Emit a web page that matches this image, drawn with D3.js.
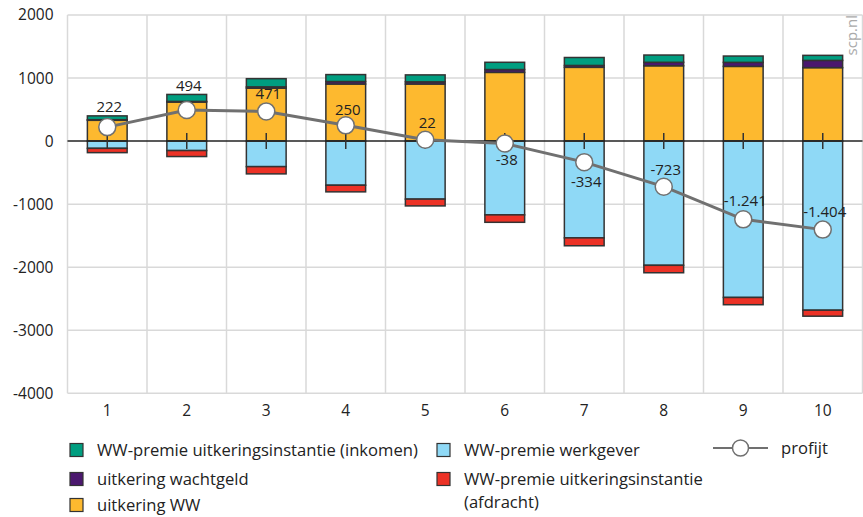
<!DOCTYPE html>
<html>
<head>
<meta charset="utf-8">
<script src="https://cdn.jsdelivr.net/npm/d3@7"></script>
<style>
  body { margin: 0; background: #fff; }
  svg { display: block; font-family: "Open Sans", sans-serif; }
</style>
</head>
<body>
<div id="chart"></div>
<script>
const categories = ["1", "2", "3", "4", "5", "6", "7", "8", "9", "10"];
const premieInkomen = [60, 110, 130, 110, 110, 115, 126, 115, 100, 80];
const wachtgeld = [10, 10, 20, 40, 35, 45, 30, 55, 64, 115];
const uitkeringWW = [330, 620, 840, 905, 905, 1090, 1170, 1195, 1185, 1165];
const premieWerkgever = [-115, -150, -405, -700, -920, -1170, -1535, -1970, -2480, -2682];
const premieAfdracht = [-68, -95, -115, -105, -108, -118, -125, -118, -115, -95];
const profijt = [222, 494, 471, 250, 22, -38, -334, -723, -1241, -1404];
const yTicks = [2000, 1000, 0, -1000, -2000, -3000, -4000];

const series = [
  { key: "ww", label: "uitkering WW", values: uitkeringWW, color: "#fdb92f" },
  { key: "wachtgeld", label: "uitkering wachtgeld", values: wachtgeld, color: "#4b186e" },
  { key: "inkomen", label: "WW-premie uitkeringsinstantie (inkomen)", values: premieInkomen, color: "#009e80" },
  { key: "werkgever", label: "WW-premie werkgever", values: premieWerkgever, color: "#8fd9f6" },
  { key: "afdracht", label: "WW-premie uitkeringsinstantie (afdracht)", values: premieAfdracht, color: "#ec3226" }
];
const colorOf = Object.fromEntries(series.map(s => [s.key, s.color]));

const width = 863, height = 517;
const plotLeft = 67.5, plotRight = 862.5, plotTop = 15, plotBottom = 393.3;

const nl = d3.formatLocale({ decimal: ",", thousands: ".", grouping: [3], currency: ["€", ""], minus: "-" });
const fmtLabel = nl.format(",d");
const fmtAxis = nl.format("d");

const svg = d3.select("#chart").append("svg")
  .attr("width", width).attr("height", height);

const xCell = d3.scaleBand().domain(categories).range([plotLeft, plotRight]);
const x = d3.scaleBand().domain(categories).range([plotLeft, plotRight]).paddingInner(0.5).paddingOuter(0.25);
const y = d3.scaleLinear().domain([-4000, 2000]).range([plotBottom, plotTop]);

// grid
const grid = svg.append("g").attr("stroke", "#d9d9d9").attr("stroke-width", 1.5);
grid.selectAll(".h").data(yTicks.filter(d => d !== 0)).join("line")
  .attr("x1", plotLeft).attr("x2", plotRight)
  .attr("y1", d => y(d)).attr("y2", d => y(d));
grid.selectAll(".v").data(categories.map(c => xCell(c)).concat([plotRight])).join("line")
  .attr("x1", d => d).attr("x2", d => d)
  .attr("y1", plotTop).attr("y2", plotBottom);

// axes
svg.append("g")
  .attr("transform", `translate(${plotLeft},0)`)
  .call(d3.axisLeft(y).tickValues(yTicks).tickSize(0).tickPadding(14).tickFormat(fmtAxis))
  .call(g => g.select(".domain").remove())
  .call(g => g.selectAll("text").attr("font-size", 15.5).attr("fill", "#222").attr("font-family", "Open Sans"));

svg.append("g")
  .attr("transform", `translate(0,${plotBottom})`)
  .call(d3.axisBottom(xCell).tickSize(0).tickPadding(12))
  .call(g => g.select(".domain").remove())
  .call(g => g.selectAll("text").attr("font-size", 15.5).attr("fill", "#222").attr("font-family", "Open Sans"));

// stacked bars
const rows = categories.map((c, i) => {
  const r = { cat: c };
  series.forEach(s => { r[s.key] = s.values[i]; });
  return r;
});
const stacked = d3.stack().keys(series.map(s => s.key)).offset(d3.stackOffsetDiverging)(rows);

svg.append("g").selectAll("g").data(stacked).join("g")
  .attr("fill", d => colorOf[d.key])
  .selectAll("rect").data(d => d).join("rect")
  .attr("x", d => x(d.data.cat))
  .attr("width", x.bandwidth())
  .attr("y", d => y(d[1]))
  .attr("height", d => y(d[0]) - y(d[1]))
  .attr("stroke", "#333")
  .attr("stroke-width", 1.5);

// zero line + ticks
svg.append("line")
  .attr("x1", plotLeft).attr("x2", plotRight)
  .attr("y1", y(0)).attr("y2", y(0))
  .attr("stroke", "#222").attr("stroke-width", 1.5);
svg.append("g").selectAll("line").data(categories).join("line")
  .attr("x1", d => xCell(d) + xCell.bandwidth() / 2)
  .attr("x2", d => xCell(d) + xCell.bandwidth() / 2)
  .attr("y1", y(0) - 8).attr("y2", y(0) + 8)
  .attr("stroke", "#333").attr("stroke-width", 1.5);

// profit line
const cx = (d, i) => xCell(categories[i]) + xCell.bandwidth() / 2;
const line = d3.line().x(cx).y(d => y(d));
svg.append("path").datum(profijt)
  .attr("d", line)
  .attr("fill", "none").attr("stroke", "#707070").attr("stroke-width", 3);
svg.append("g").selectAll("circle").data(profijt).join("circle")
  .attr("cx", cx).attr("cy", d => y(d)).attr("r", 8.5)
  .attr("fill", "#fff").attr("stroke", "#707070").attr("stroke-width", 1.5);

// label placement relative to the point
const labelDy = [-15, -19, -12, -10, -12, 22, 25, -12, -13, -13];
svg.append("g").selectAll("text").data(profijt).join("text")
  .attr("x", (d, i) => cx(d, i) + 2)
  .attr("y", (d, i) => y(d) + labelDy[i])
  .attr("text-anchor", "middle")
  .attr("font-size", 15).attr("fill", "#222")
  .text(d => fmtLabel(d));

// watermark
svg.append("text")
  .attr("transform", `translate(857,${plotTop}) rotate(-90)`)
  .attr("text-anchor", "end")
  .attr("font-size", 15).attr("fill", "#aaa")
  .text("scp.nl");

// legend
const legend = [
  { key: "inkomen", x: 70, y: 450, lines: ["WW-premie uitkeringsinstantie (inkomen)"] },
  { key: "wachtgeld", x: 70, y: 479, lines: ["uitkering wachtgeld"] },
  { key: "ww", x: 70, y: 505, lines: ["uitkering WW"] },
  { key: "werkgever", x: 437, y: 450, lines: ["WW-premie werkgever"] },
  { key: "afdracht", x: 437, y: 479, lines: ["WW-premie uitkeringsinstantie", "(afdracht)"] }
];
const lg = svg.append("g").selectAll("g").data(legend).join("g")
  .attr("transform", d => `translate(${d.x},${d.y})`);
lg.append("rect")
  .attr("x", 0).attr("y", -6.5).attr("width", 13).attr("height", 13)
  .attr("fill", d => colorOf[d.key]).attr("stroke", "#333").attr("stroke-width", 1.2);
lg.append("text")
  .attr("x", 27).attr("y", 6)
  .attr("font-size", 16.6).attr("fill", "#222")
  .selectAll("tspan").data(d => d.lines).join("tspan")
  .attr("x", 27).attr("dy", (d, i) => i ? 23 : 0)
  .text(d => d);

const lp = svg.append("g").attr("transform", "translate(713,448)");
lp.append("line").attr("x1", 0).attr("x2", 55).attr("stroke", "#707070").attr("stroke-width", 2);
lp.append("circle").attr("cx", 27.5).attr("r", 8).attr("fill", "#fff").attr("stroke", "#707070").attr("stroke-width", 1.5);
lp.append("text").attr("x", 68).attr("y", 6).attr("font-size", 16.6).attr("fill", "#222").text("profijt");
</script>
</body>
</html>
